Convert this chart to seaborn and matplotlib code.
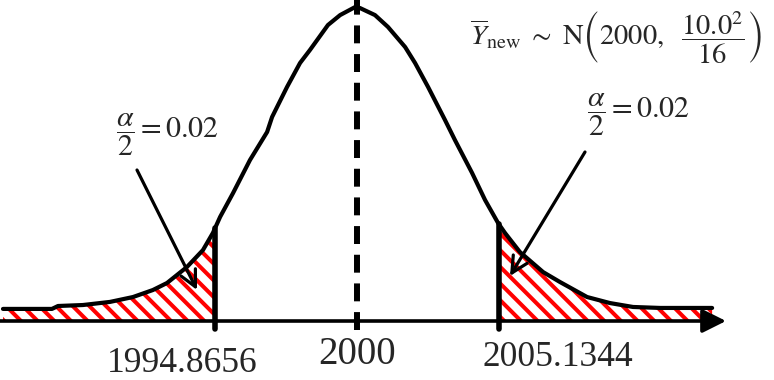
import numpy as np
import matplotlib
matplotlib.use("Agg")
import matplotlib.pyplot as plt
import seaborn as sns

# ---- data ----
mean_value = 2000
crit_low = 1994.8656
crit_high = 2005.1344
tick_labels = ["1994.8656", "2000", "2005.1344"]
alpha_label = r"$\dfrac{\alpha}{2}=0.02$"
dist_label = r"$\overline{Y}_{\mathrm{new}}\ \sim\ \mathrm{N}\left(2000,\ \ \dfrac{10.0^{2}}{16}\right)$"

curve_x = [1987.20, 1988.97, 1989.19, 1990.09, 1991.07, 1991.90, 1992.62, 1993.13,
           1993.85, 1994.43, 1994.79, 1995.05, 1995.52, 1996.13, 1996.75, 1996.93,
           1997.47, 1997.94, 1998.30, 1998.95, 1999.39, 1999.93, 2000.11, 2000.65,
           2001.12, 2001.74, 2002.10, 2002.57, 2003.18, 2003.54, 2004.16, 2004.63,
           2005.10, 2005.35, 2005.89, 2006.73, 2007.34, 2008.32, 2009.15, 2009.98,
           2010.96, 2012.84]
curve_density = [0.0062, 0.0062, 0.0077, 0.0082, 0.0098, 0.0123, 0.0159, 0.0195,
                 0.0277, 0.0364, 0.0452, 0.0534, 0.0657, 0.0826, 0.0970, 0.1047,
                 0.1201, 0.1324, 0.1391, 0.1519, 0.1570, 0.1611, 0.1606, 0.1570,
                 0.1509, 0.1406, 0.1324, 0.1201, 0.1032, 0.0929, 0.0760, 0.0621,
                 0.0503, 0.0452, 0.0354, 0.0251, 0.0200, 0.0123, 0.0092, 0.0072,
                 0.0067, 0.0067]

# ---- layout helpers (pixel -> data) ----
PX_PER_UNIT = 27.657
Y_PER_PX = 0.0005132
def px2x(px):
    return mean_value + (px - 357) / PX_PER_UNIT
def py2y(py):
    return (321 - py) * Y_PER_PX

sns.set_style("white")
plt.rcParams["font.family"] = ["Liberation Serif", "DejaVu Serif"]
plt.rcParams["mathtext.fontset"] = "stix"
plt.rcParams["hatch.linewidth"] = 2.9

fig = plt.figure(figsize=(7.74, 3.80), dpi=100)
ax = fig.add_axes([0, 0, 1, 1])
ax.set_axis_off()
ax.set_xlim(px2x(0), px2x(774))
ax.set_ylim(py2y(380), py2y(0))

cx = np.array(curve_x)
cy = np.array(curve_density)
y_lo = np.interp(crit_low, cx, cy)
y_hi = np.interp(crit_high, cx, cy)

# hatched tails
m = cx < crit_low
ax.fill_between(np.r_[cx[m], crit_low], 0, np.r_[cy[m], y_lo],
                facecolor="white", edgecolor="red", hatch="\\\\", linewidth=0, zorder=1)
m = cx > crit_high
ax.fill_between(np.r_[crit_high, cx[m]], 0, np.r_[y_hi, cy[m]],
                facecolor="white", edgecolor="red", hatch="\\\\", linewidth=0, zorder=1)

# curve
sns.lineplot(x=cx, y=cy, ax=ax, color="black", linewidth=3, zorder=3,
             solid_joinstyle="round", solid_capstyle="round")

# x axis with arrow
ax.annotate("", xy=(px2x(726), 0), xytext=(px2x(0), 0),
            arrowprops=dict(arrowstyle="-|>", lw=2.6, color="black",
                            mutation_scale=36, shrinkA=0, shrinkB=0), zorder=4)

# critical lines
ax.plot([crit_low, crit_low], [py2y(329), y_lo], color="black", lw=4, zorder=4)
ax.plot([crit_high, crit_high], [py2y(329), y_hi], color="black", lw=4, zorder=4)
# mean dashed line
ax.plot([mean_value, mean_value], [py2y(330), py2y(-5)], color="black", lw=4.3,
        dashes=(3.0, 1.8), zorder=4)

# tick labels
ax.text(px2x(107), py2y(372), tick_labels[0], fontsize=25.5, ha="left", va="baseline")
ax.text(mean_value, py2y(364), tick_labels[1], fontsize=28, ha="center", va="baseline")
ax.text(px2x(483), py2y(366), tick_labels[2], fontsize=25.5, ha="left", va="baseline")

# alpha/2 labels and arrows
ax.text(px2x(116), py2y(135), alpha_label, fontsize=21.5, ha="left", va="center")
ax.text(px2x(587), py2y(115), alpha_label, fontsize=21.5, ha="left", va="center")
arrow_kw = dict(arrowstyle="->", lw=2.3, color="black", mutation_scale=29,
                shrinkA=0, shrinkB=0)
ax.annotate("", xy=(px2x(197), py2y(290)), xytext=(px2x(137), py2y(170)),
            arrowprops=arrow_kw, zorder=5)
ax.annotate("", xy=(px2x(510), py2y(276)), xytext=(px2x(585), py2y(152)),
            arrowprops=arrow_kw, zorder=5)

# distribution label
ax.text(px2x(470), py2y(37), dist_label, fontsize=20.5, ha="left", va="center")

fig.savefig("out.png", dpi=100)
